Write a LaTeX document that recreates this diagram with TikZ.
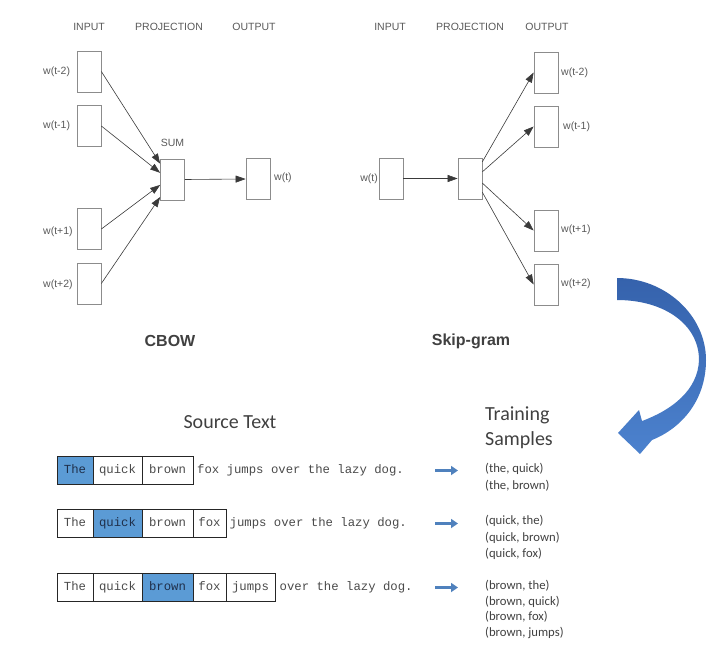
\documentclass[tikz,border=0pt]{standalone}
\usepackage{fontspec}
\setmainfont{Liberation Sans}
\newfontfamily\monof{Liberation Mono}
\newfontfamily\calib{Carlito}
\usetikzlibrary{arrows.meta,calc}
\definecolor{hdrgrey}{HTML}{595959}
\definecolor{boxgrey}{HTML}{8C8C8C}
\definecolor{arrgrey}{HTML}{3A3A3A}
\definecolor{titlegrey}{HTML}{404040}
\definecolor{monogrey}{HTML}{4A4A4A}
\definecolor{hlblue}{HTML}{5B9BD5}
\definecolor{hltext}{HTML}{1F2F4A}
\definecolor{smallarrow}{HTML}{4F81BD}
\definecolor{curvetop}{HTML}{3562AC}
\definecolor{curvebot}{HTML}{4C82CE}
\definecolor{sampgrey}{HTML}{404040}
\begin{document}
\begin{tikzpicture}[x=1pt,y=-1pt,
  hdr/.style={font=\fontsize{10.5}{12}\selectfont, text=hdrgrey, inner sep=0},
  wlabel/.style={font=\fontsize{10.5}{12}\selectfont, text=hdrgrey, inner sep=0},
  vecbox/.style={draw=boxgrey, line width=0.7pt, minimum width=24pt, minimum height=41pt, inner sep=0},
  netarrow/.style={draw=arrgrey, line width=0.6pt, -{Triangle[length=10pt,width=7pt]}},
  modeltitle/.style={font=\bfseries\fontsize{16}{19}\selectfont, text=titlegrey, inner sep=0},
  cell/.style={draw=black!85, line width=0.9pt, minimum height=27.5pt, inner sep=0,
    font=\monof\fontsize{12.3}{14}\selectfont, text=monogrey, text height=9pt, text depth=2.5pt},
  hlcell/.style={cell, fill=hlblue, text=hltext},
  rest/.style={inner sep=0, font=\monof\fontsize{12.3}{14}\selectfont, text=monogrey, text height=9pt, text depth=2.5pt, anchor=west},
  bluearrow/.style={draw=smallarrow, line width=3pt, -{Triangle[length=7pt,width=9pt]}},
  bigcal/.style={font=\calib\fontsize{20}{24}\selectfont, text=titlegrey, inner sep=0},
  samp/.style={font=\calib\fontsize{12.7}{15}\selectfont, text=sampgrey, inner sep=0, anchor=west}
]
\useasboundingbox (0,0) rectangle (726,648);

% ---------------- CBOW ----------------
\node[hdr] (chin) at (89,27) {INPUT};
\node[hdr] (chpr) at (169,27) {PROJECTION};
\node[hdr] (chout) at (254,27) {OUTPUT};

\node[vecbox] (ci1) at (89,71.5) {};
\node[vecbox] (ci2) at (89,126) {};
\node[vecbox] (ci3) at (89,229) {};
\node[vecbox] (ci4) at (89,283.5) {};
\node[vecbox] (cp) at (172.5,179.5) {};
\node[vecbox] (co) at (258,179) {};

\node[wlabel, anchor=west] (cl1) at (43,71.5) {w(t-2)};
\node[wlabel, anchor=west] (cl2) at (43,126) {w(t-1)};
\node[wlabel, anchor=west] (cl3) at (43,232) {w(t+1)};
\node[wlabel, anchor=west] (cl4) at (43,285) {w(t+2)};
\node[wlabel, anchor=west] (clo) at (274,178) {w(t)};
\node[wlabel] (csum) at (172.5,143) {SUM};

\draw[netarrow] (ci1.east) -- ($(cp.north west)!0.12!(cp.south west)$);
\draw[netarrow] (ci2.east) -- ($(cp.north west)!0.34!(cp.south west)$);
\draw[netarrow] (ci3.east) -- ($(cp.north west)!0.63!(cp.south west)$);
\draw[netarrow] (ci4.east) -- ($(cp.north west)!0.92!(cp.south west)$);
\draw[netarrow] (cp.east) -- (co.west);

\node[modeltitle] (cbow) at (170,341) {CBOW};

% ---------------- Skip-gram ----------------
\node[hdr] (shin) at (390,27) {INPUT};
\node[hdr] (shpr) at (470,27) {PROJECTION};
\node[hdr] (shout) at (547,27) {OUTPUT};

\node[vecbox] (si) at (391,178.5) {};
\node[vecbox] (sp) at (470,178.5) {};
\node[vecbox] (so1) at (546,72.5) {};
\node[vecbox] (so2) at (546,126.5) {};
\node[vecbox] (so3) at (546,230.5) {};
\node[vecbox] (so4) at (546,284.5) {};

\node[wlabel, anchor=east] (sli) at (378,179) {w(t)};
\node[wlabel, anchor=west] (sl1) at (561,73) {w(t-2)};
\node[wlabel, anchor=west] (sl2) at (563,127) {w(t-1)};
\node[wlabel, anchor=west] (sl3) at (561,230) {w(t+1)};
\node[wlabel, anchor=west] (sl4) at (561,284) {w(t+2)};

\draw[netarrow] (si.east) -- (sp.west);
\draw[netarrow] ($(sp.north east)!0.10!(sp.south east)$) -- (so1.west);
\draw[netarrow] ($(sp.north east)!0.34!(sp.south east)$) -- (so2.west);
\draw[netarrow] ($(sp.north east)!0.61!(sp.south east)$) -- (so3.west);
\draw[netarrow] ($(sp.north east)!0.83!(sp.south east)$) -- (so4.west);

\node[modeltitle] (skip) at (471,341) {Skip-gram};

% ---------------- curved arrow ----------------
\shade[top color=curvetop, bottom color=curvebot]
  (617,278) .. controls (665,278) and (706,315) .. (706,360)
  .. controls (706,400) and (682,428) .. (652,440)
  -- (640,454) -- (618,433) -- (639,410) -- (642,421)
  .. controls (672,410) and (698,390) .. (699,360)
  .. controls (699,325) and (665,300) .. (617,300) -- cycle;

% ---------------- Source text ----------------
\node[bigcal] (src) at (230,422) {Source Text};
\node[bigcal, anchor=west] (tr1) at (485,415) {Training};
\node[bigcal, anchor=west] (tr2) at (485,440) {Samples};

% row 1
\node[hlcell, minimum width=36pt] (r1a) at (75,470.5) {The};
\node[cell, minimum width=49pt] (r1b) at (117.5,470.5) {quick};
\node[cell, minimum width=51pt] (r1c) at (167.5,470.5) {brown};
\node[rest] (r1t) at (197,470.5) {fox jumps over the lazy dog.};
\coordinate (r1s) at (435,470.5);
\coordinate (r1e) at (458,470.5);
\draw[bluearrow] (r1s) -- (r1e);

% row 2
\node[cell, minimum width=36pt] (r2a) at (75,523.5) {The};
\node[hlcell, minimum width=49pt] (r2b) at (117.5,523.5) {quick};
\node[cell, minimum width=51pt] (r2c) at (167.5,523.5) {brown};
\node[cell, minimum width=33pt] (r2d) at (209.5,523.5) {fox};
\node[rest] (r2t) at (229.5,523.5) {jumps over the lazy dog.};
\coordinate (r2s) at (435,523.5);
\coordinate (r2e) at (458,523.5);
\draw[bluearrow] (r2s) -- (r2e);

% row 3
\node[cell, minimum width=36pt] (r3a) at (75,587.5) {The};
\node[cell, minimum width=49pt] (r3b) at (117.5,587.5) {quick};
\node[hlcell, minimum width=51pt] (r3c) at (167.5,587.5) {brown};
\node[cell, minimum width=33pt] (r3d) at (209.5,587.5) {fox};
\node[cell, minimum width=49pt] (r3e) at (250.5,587.5) {jumps};
\node[rest] (r3t) at (279.5,587.5) {over the lazy dog.};
\coordinate (r3s) at (435,587.5);
\coordinate (r3e2) at (458,587.5);
\draw[bluearrow] (r3s) -- (r3e2);

% samples
\node[samp] (s11) at (485,469) {(the, quick)};
\node[samp] (s12) at (485,486) {(the, brown)};
\node[samp] (s21) at (485,521) {(quick, the)};
\node[samp] (s22) at (485,538) {(quick, brown)};
\node[samp] (s23) at (485,554) {(quick, fox)};
\node[samp] (s31) at (485,586) {(brown, the)};
\node[samp] (s32) at (485,602) {(brown, quick)};
\node[samp] (s33) at (485,617) {(brown, fox)};
\node[samp] (s34) at (485,633) {(brown, jumps)};
\end{tikzpicture}
\end{document}
